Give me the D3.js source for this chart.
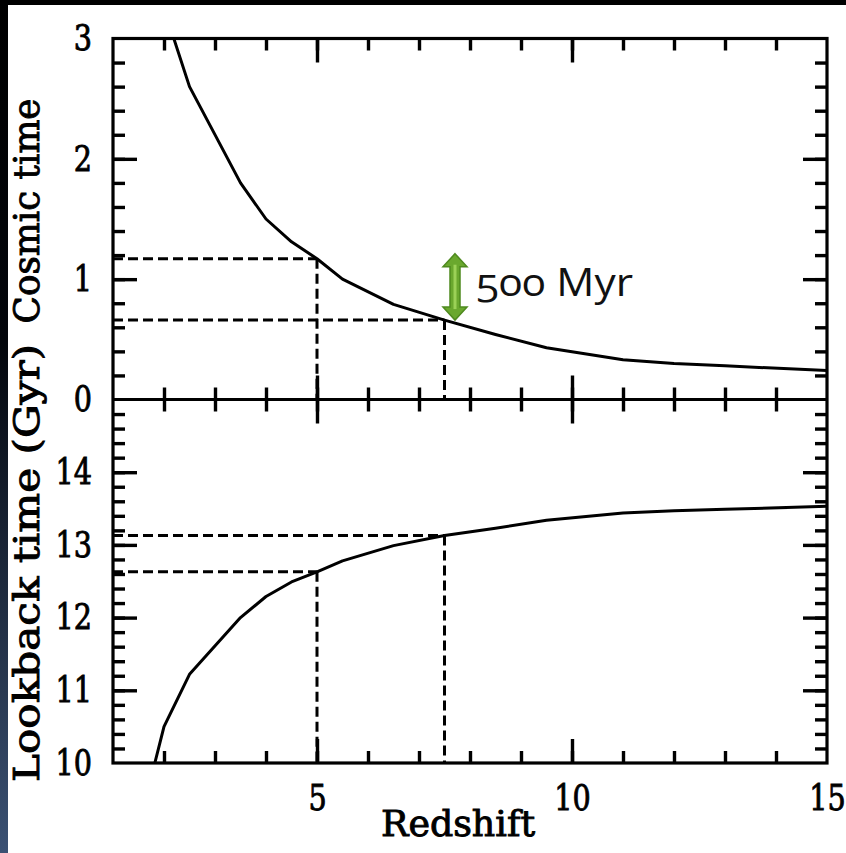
<!DOCTYPE html>
<html>
<head>
<meta charset="utf-8">
<script src="https://cdn.jsdelivr.net/npm/d3@7"></script>
<style>
  body{margin:0;background:#fff;}
  svg{display:block;}
  .tk text{font-family:'DejaVu Serif',serif;font-size:35px;fill:#000;stroke:#000;stroke-width:0.9;}
  .tk path,.tk line{stroke:#000;stroke-width:3.4;}
  .ttl{font-family:'DejaVu Serif',serif;font-size:35px;fill:#000;stroke:#000;stroke-width:0.9;}
</style>
</head>
<body>
<div class="let"></div>
<script>
// redshift vs cosmic time (Gyr), upper panel
let zCosmic=[2.0,2.5,3.5,4.0,4.5,5.0,5.5,6.5,7.5,8.5,9.5,11,12,13,15]
let tCosmic=[3.25,2.6,1.8,1.5,1.31,1.17,1.0,0.79,0.66,0.54,0.43,0.33,0.3,0.28,0.24]
// redshift vs lookback time (Gyr), lower panel
let zLook=[1.82,2.0,2.5,3.5,4.0,4.5,5.0,5.5,6.5,7.5,8.5,9.5,11,12,13,15]
let tLook=[10.0,10.5,11.22,12.0,12.29,12.49,12.63,12.78,12.99,13.13,13.23,13.34,13.44,13.47,13.49,13.53]
// the two marked redshifts
let zMark=[5,7.5]
let cosmicMark=[1.17,0.66]
let lookMark=[12.63,13.13]
let xLabels=[5,10,15]
let topLabels=[0,1,2,3]
let botLabels=[10,11,12,13,14]
let gapText='500 Myr'

let w=846,h=853
let pLeft=113,pRight=827,pTop=38.5,pMid=399.5,pBottom=763
let sx=0.82   // narrow the plotter digits
let xScale=d3.scaleLinear().domain([1,15]).range([pLeft,pRight])
let yTop=d3.scaleLinear().domain([0,3]).range([pMid,pTop])
let yBot=d3.scaleLinear().domain([10,15]).range([pBottom,pMid])

let svg=d3.select('.let').append('svg').attr('width',w).attr('height',h)
let defs=svg.append('defs')
let grad=defs.append('linearGradient').attr('id','edge').attr('x1',0).attr('y1',0).attr('x2',0).attr('y2',1)
grad.append('stop').attr('offset','0%').attr('stop-color','#000')
grad.append('stop').attr('offset','40%').attr('stop-color','#03060c')
grad.append('stop').attr('offset','100%').attr('stop-color','#3b5173')
defs.append('clipPath').attr('id','cTop').append('rect').attr('x',pLeft).attr('y',pTop).attr('width',pRight-pLeft).attr('height',pMid-pTop)
defs.append('clipPath').attr('id','cBot').append('rect').attr('x',pLeft).attr('y',pMid).attr('width',pRight-pLeft).attr('height',pBottom-pMid)

svg.append('rect').attr('width',w).attr('height',h).attr('fill','#fff')
svg.append('rect').attr('x',0).attr('y',0).attr('width',w).attr('height',5).attr('fill','#000')
svg.append('rect').attr('x',0).attr('y',0).attr('width',8).attr('height',h).attr('fill','url(#edge)')

// ticks on all sides of both panels
let minorX=d3.range(2,15)
let majorX=[5,10]
function xTicks(y,dir,len,vals){
  let ax=dir=='down'?d3.axisBottom(xScale):d3.axisTop(xScale)
  svg.append('g').attr('class','tk').attr('transform','translate(0,'+y+')')
    .call(ax.tickValues(vals).tickSize(len).tickFormat('').tickSizeOuter(0))
    .select('.domain').remove()
}
xTicks(pTop,'down',12,minorX);xTicks(pTop,'down',24,majorX)
xTicks(pMid,'up',12,minorX);xTicks(pMid,'up',24,majorX)
xTicks(pMid,'down',12,minorX);xTicks(pMid,'down',24,majorX)
xTicks(pBottom,'up',12,minorX);xTicks(pBottom,'up',24,majorX)

function yTicks(scale,minor,major){
  [[pLeft,d3.axisRight],[pRight,d3.axisLeft]].forEach(([x,f])=>{
    svg.append('g').attr('class','tk').attr('transform','translate('+x+',0)')
      .call(f(scale).tickValues(minor).tickSize(12).tickFormat('').tickSizeOuter(0)).select('.domain').remove()
    svg.append('g').attr('class','tk').attr('transform','translate('+x+',0)')
      .call(f(scale).tickValues(major).tickSize(24).tickFormat('').tickSizeOuter(0)).select('.domain').remove()
  })
}
yTicks(yTop,d3.range(1,15).map(i=>i*0.2),[1,2])
yTicks(yBot,d3.range(1,25).map(i=>10+i*0.2),[11,12,13,14])

// frame and divider
svg.append('rect').attr('x',pLeft).attr('y',pTop).attr('width',pRight-pLeft).attr('height',pBottom-pTop)
  .attr('fill','none').attr('stroke','#000').attr('stroke-width',3.2)
svg.append('line').attr('x1',pLeft).attr('x2',pRight).attr('y1',pMid).attr('y2',pMid).attr('stroke','#000').attr('stroke-width',3.2)

// tick labels
function squeeze(g){
  g.select('.domain').remove()
  g.selectAll('text').each(function(){
    let t=d3.select(this)
    if(t.attr('x')!=null) t.attr('x',+t.attr('x')/sx)
    t.attr('transform','scale('+sx+',1)')
  })
}
svg.append('g').attr('class','tk').attr('transform','translate('+pLeft+',0)')
  .call(d3.axisLeft(yTop).tickValues(topLabels).tickSize(0).tickPadding(21).tickFormat(d3.format('d')))
  .call(squeeze)
svg.append('g').attr('class','tk').attr('transform','translate('+pLeft+',0)')
  .call(d3.axisLeft(yBot).tickValues(botLabels).tickSize(0).tickPadding(21).tickFormat(d3.format('d')))
  .call(squeeze)
svg.append('g').attr('class','tk').attr('transform','translate(0,'+pBottom+')')
  .call(d3.axisBottom(xScale).tickValues(xLabels).tickSize(0).tickPadding(22).tickFormat(d3.format('d')))
  .call(squeeze)

// axis titles
svg.append('text').attr('class','ttl').text('Redshift').attr('x',458).attr('y',836).attr('text-anchor','middle')
  .attr('textLength',154).attr('lengthAdjust','spacingAndGlyphs')
svg.append('text').attr('class','ttl').text('Cosmic time').attr('transform','translate(39,211) rotate(-90)').attr('text-anchor','middle')
  .attr('textLength',225).attr('lengthAdjust','spacingAndGlyphs')
svg.append('text').attr('class','ttl').text('Lookback time (Gyr)').attr('transform','translate(39,563) rotate(-90)').attr('text-anchor','middle')
  .attr('textLength',438).attr('lengthAdjust','spacingAndGlyphs')

// curves
let lineTop=d3.line().x((d,i)=>xScale(zCosmic[i])).y(d=>yTop(d))
let lineBot=d3.line().x((d,i)=>xScale(zLook[i])).y(d=>yBot(d))
svg.append('path').attr('d',lineTop(tCosmic)).attr('clip-path','url(#cTop)')
  .attr('fill','none').attr('stroke','#000').attr('stroke-width',3).attr('stroke-linejoin','round')
svg.append('path').attr('d',lineBot(tLook)).attr('clip-path','url(#cBot)')
  .attr('fill','none').attr('stroke','#000').attr('stroke-width',3).attr('stroke-linejoin','round')

// dashed guides at the marked redshifts
zMark.forEach((z,i)=>{
  let dash=[[pLeft,yTop(cosmicMark[i]),xScale(z),yTop(cosmicMark[i])],
            [xScale(z),yTop(cosmicMark[i]),xScale(z),yTop(0)],
            [pLeft,yBot(lookMark[i]),xScale(z),yBot(lookMark[i])],
            [xScale(z),yBot(lookMark[i]),xScale(z),yBot(10)]]
  dash.forEach(s=>{
    svg.append('line').attr('x1',s[0]).attr('y1',s[1]).attr('x2',s[2]).attr('y2',s[3])
      .attr('stroke','#000').attr('stroke-width',3).attr('stroke-dasharray','10,5')
  })
})

// green double arrow spanning the cosmic time gap
let ax=455,y1=yTop(cosmicMark[0])-5,y2=yTop(cosmicMark[1])
let hw=12,hh=13,sw=5
let arrow=[[ax,y1],[ax+hw,y1+hh],[ax+sw,y1+hh],[ax+sw,y2-hh],[ax+hw,y2-hh],[ax,y2],
           [ax-hw,y2-hh],[ax-sw,y2-hh],[ax-sw,y1+hh],[ax-hw,y1+hh]]
svg.append('path').attr('d',d3.line()(arrow)+'Z').attr('fill','#6aa82e').attr('stroke','#4f8a1f').attr('stroke-width',1.5)
svg.append('line').attr('x1',ax).attr('x2',ax).attr('y1',y1+hh-2).attr('y2',y2-hh+2)
  .attr('stroke','#9bd157').attr('stroke-width',3)
svg.append('text').text(gapText).attr('x',476).attr('y',296)
  .attr('textLength',157).attr('lengthAdjust','spacingAndGlyphs')
  .style('font-family','Open Sans').style('font-size','38px').style('font-feature-settings','"onum"').style('fill','#111')
</script>
</body>
</html>
